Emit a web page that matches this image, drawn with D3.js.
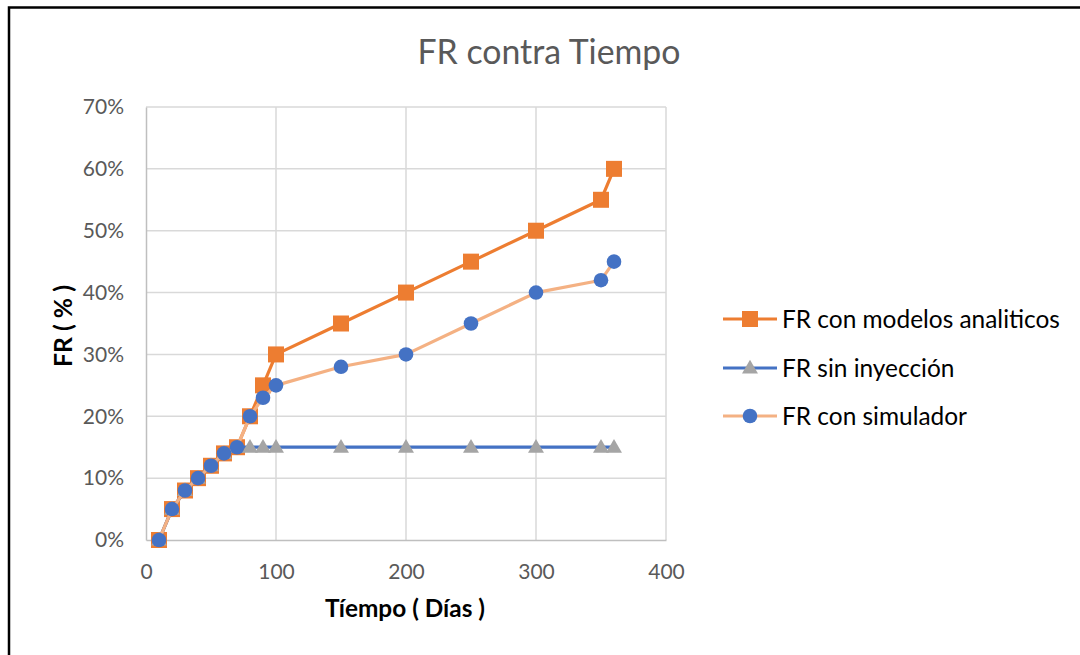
<!DOCTYPE html>
<html><head><meta charset="utf-8">
<script src="https://cdn.jsdelivr.net/npm/d3@7"></script>
<style>body{margin:0;background:#fff;} svg{display:block;}</style>
</head><body>
<svg id="c" width="1080" height="655"></svg>
<script>
const days = [10,20,30,40,50,60,70,80,90,100,150,200,250,300,350,360];
const frAnaliticos = [0,5,8,10,12,14,15,20,25,30,35,40,45,50,55,60];
const frSinInyeccion = [0,5,8,10,12,14,15,15,15,15,15,15,15,15,15,15];
const frSimulador = [0,5,8,10,12,14,15,20,23,25,28,30,35,40,42,45];
const xTicks = [0,100,200,300,400];
const yTicks = [0,10,20,30,40,50,60,70];
const seriesNames = ["FR con modelos analiticos","FR sin inyección","FR con simulador"];

const font = "Lato, 'Open Sans', sans-serif";
const svg = d3.select("#c");
svg.append("rect").attr("x",9).attr("y",7.5).attr("width",1100).attr("height",700)
  .attr("fill","#fff").attr("stroke","#000").attr("stroke-width",2.5);

// scale a text's font size so that its width matches a target width
function fit(sel, base, target){
  sel.style("font-size", base+"px");
  const w = sel.node().getComputedTextLength();
  const s = Math.min(base*target/w, base*1.5);
  sel.style("font-size", s.toFixed(2)+"px");
  return s;
}

const x = d3.scaleLinear().domain([0,400]).range([146,666]);
const y = d3.scaleLinear().domain([0,70]).range([540,107]);

// gridlines
const g = svg.append("g");
g.selectAll(".vg").data(xTicks.slice(1)).join("line")
  .attr("x1",d=>x(d)).attr("x2",d=>x(d)).attr("y1",y(0)).attr("y2",y(70))
  .attr("stroke","#d9d9d9").attr("stroke-width",1.5);
g.selectAll(".hg").data(yTicks.slice(1)).join("line")
  .attr("x1",x(0)).attr("x2",x(400)).attr("y1",d=>y(d)).attr("y2",d=>y(d))
  .attr("stroke","#d9d9d9").attr("stroke-width",1.5);

// axes
const xAxis = d3.axisBottom(x).tickValues(xTicks).tickSize(0).tickPadding(24);
const yAxis = d3.axisLeft(y).tickValues(yTicks).tickSize(0).tickPadding(22).tickFormat(d=>d+"%");
const gx = svg.append("g").attr("transform",`translate(0,${y(0)})`).call(xAxis);
const gy = svg.append("g").attr("transform",`translate(${x(0)},0)`).call(yAxis);
[gx,gy].forEach(a=>{
  a.select(".domain").attr("stroke","#bfbfbf").attr("stroke-width",1.5);
  a.selectAll("text").attr("fill","#595959").style("font-family",font).style("font-size","21px");
});

// series
const line = d3.line().x(d=>x(d[0])).y(d=>y(d[1]));
const s1 = days.map((d,i)=>[d,frAnaliticos[i]]);
const s2 = days.map((d,i)=>[d,frSinInyeccion[i]]);
const s3 = days.map((d,i)=>[d,frSimulador[i]]);

svg.append("path").datum(s1).attr("d",line).attr("fill","none").attr("stroke","#ed7d31").attr("stroke-width",3.2).attr("stroke-linejoin","round");
svg.selectAll(".sq").data(s1).join("rect").attr("x",d=>x(d[0])-8).attr("y",d=>y(d[1])-8)
  .attr("width",16).attr("height",16).attr("fill","#ed7d31");

svg.append("path").datum(s2).attr("d",line).attr("fill","none").attr("stroke","#4472c4").attr("stroke-width",3.2).attr("stroke-linejoin","round");
const tri = d3.symbol().type(d3.symbolTriangle).size(110);
svg.selectAll(".tr").data(s2).join("path").attr("d",tri)
  .attr("transform",d=>`translate(${x(d[0])},${y(d[1])+1})`).attr("fill","#a5a5a5");

svg.append("path").datum(s3).attr("d",line).attr("fill","none").attr("stroke","#f4b183").attr("stroke-width",3.2).attr("stroke-linejoin","round");
svg.selectAll(".ci").data(s3).join("circle").attr("cx",d=>x(d[0])).attr("cy",d=>y(d[1]))
  .attr("r",7.3).attr("fill","#4472c4");

// title
const title = svg.append("text").attr("x",549).attr("y",64).attr("text-anchor","middle")
  .style("font-family",font).attr("fill","#595959").text("FR contra Tiempo");
fit(title, 30, 263);

// axis titles
const xt = svg.append("text").attr("x",405).attr("y",617).attr("text-anchor","middle")
  .style("font-family",font).style("font-weight","bold").attr("fill","#000").text("Tíempo ( Días )");
fit(xt, 20, 160);
const yt = svg.append("text").attr("transform","translate(72,326) rotate(-90)").attr("text-anchor","middle")
  .style("font-family",font).style("font-weight","bold").attr("fill","#000").text("FR ( % )");
fit(yt, 20, 82);

// legend
const legY = [319,368,416];
const lg = svg.append("g");
const lcol = ["#ed7d31","#4472c4","#f4b183"];
legY.forEach((ly,i)=>{
  lg.append("line").attr("x1",723).attr("x2",777).attr("y1",ly).attr("y2",ly).attr("stroke",lcol[i]).attr("stroke-width",3.2);
  if(i===0) lg.append("rect").attr("x",742).attr("y",ly-8).attr("width",16).attr("height",16).attr("fill","#ed7d31");
  if(i===1) lg.append("path").attr("d",tri).attr("transform",`translate(750,${ly+1})`).attr("fill","#a5a5a5");
  if(i===2) lg.append("circle").attr("cx",750).attr("cy",ly).attr("r",7.3).attr("fill","#4472c4");
  const t = lg.append("text").attr("x",782).attr("y",ly+8.5).style("font-family",font)
    .attr("fill","#000").text(seriesNames[i]);
  if(i===0) fit(t, 21, 278);
});
const legSize = lg.select("text").style("font-size");
lg.selectAll("text").style("font-size", legSize);
</script>
</body></html>
